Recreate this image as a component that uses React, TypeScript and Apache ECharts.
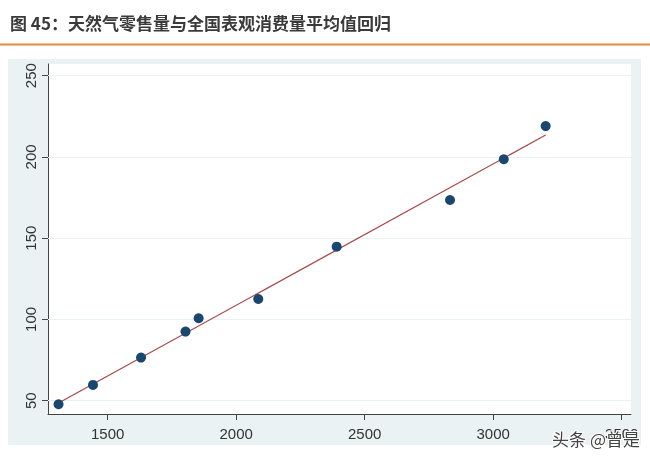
import React, { useEffect, useRef } from "react";
import * as echarts from "echarts";

// 天然气零售量 (x) vs 全国表观消费量平均值 (y)
const retailVolume = [1309, 1443, 1630, 1803, 1854, 2086, 2391, 2832, 3041, 3204];
const consumptionAvg = [47.8, 59.7, 76.5, 92.5, 100.7, 112.6, 144.8, 173.5, 198.6, 219];
const xTicks = [1500, 2000, 2500, 3000, 3500];
const yTicks = [50, 100, 150, 200, 250];
const xRange = [1268, 3536];
const yRange = [41.8, 257.2];
const titleText = "图 45：天然气零售量与全国表观消费量平均值回归";
const watermark = "头条 @曾是";

function linearFit(xs: number[], ys: number[]) {
  const n = xs.length;
  const mx = xs.reduce((a, b) => a + b, 0) / n;
  const my = ys.reduce((a, b) => a + b, 0) / n;
  let sxy = 0;
  let sxx = 0;
  for (let i = 0; i < n; i++) {
    sxy += (xs[i] - mx) * (ys[i] - my);
    sxx += (xs[i] - mx) * (xs[i] - mx);
  }
  const b = sxy / sxx;
  const a = my - b * mx;
  return { a, b };
}

export default function App() {
  const ref = useRef<HTMLDivElement>(null);
  useEffect(() => {
    if (!ref.current) return;
    const chart = echarts.init(ref.current, null, { renderer: "svg" });
    const { a, b } = linearFit(retailVolume, consumptionAvg);
    const xmin = Math.min(...retailVolume);
    const xmax = Math.max(...retailVolume);
    const fitLine = [
      [xmin, a + b * xmin],
      [xmax, a + b * xmax],
    ];
    const points = retailVolume.map((x, i) => [x, consumptionAvg[i]]);
    const font = "'Liberation Sans', Arial, sans-serif";
    chart.setOption({
      animation: false,
      backgroundColor: "transparent",
      grid: {
        left: 48,
        top: 64,
        right: 19,
        bottom: 47,
        show: true,
        backgroundColor: "#ffffff",
        borderWidth: 0,
      },
      xAxis: {
        type: "value",
        min: xRange[0],
        max: xRange[1],
        splitLine: { show: false },
        axisLine: { show: true, onZero: false, lineStyle: { color: "#444", width: 1 } },
        axisTick: { show: true, length: 6, lineStyle: { color: "#444" }, customValues: xTicks },
        axisLabel: {
          customValues: xTicks,
          formatter: (v: number) => String(v),
          color: "#333",
          fontSize: 15,
          fontFamily: font,
          margin: 12,
        },
      },
      yAxis: {
        type: "value",
        min: yRange[0],
        max: yRange[1],
        splitLine: { show: false },
        axisLine: { show: true, onZero: false, lineStyle: { color: "#444", width: 1 } },
        axisTick: { show: true, length: 6, lineStyle: { color: "#444" }, customValues: yTicks },
        axisLabel: {
          customValues: yTicks,
          formatter: (v: number) => String(v),
          rotate: 90,
          color: "#333",
          fontSize: 15,
          fontFamily: font,
          margin: 10,
        },
      },
      series: [
        {
          type: "scatter",
          data: [],
          z: 1,
          silent: true,
          markLine: {
            z: 1,
            silent: true,
            symbol: "none",
            label: { show: false },
            lineStyle: { color: "#EAF2F3", width: 1, type: "solid" },
            data: yTicks.map((v) => ({ yAxis: v })),
          },
        },
        {
          type: "line",
          data: fitLine,
          showSymbol: false,
          z: 3,
          lineStyle: { color: "#A84A48", width: 1.3 },
          itemStyle: { color: "#A84A48" },
        },
        {
          type: "scatter",
          data: points,
          symbolSize: 10,
          z: 4,
          itemStyle: { color: "#1A476F", opacity: 1 },
        },
      ],
      graphic: [
        {
          type: "rect",
          z: -10,
          shape: { x: 8, y: 59, width: 633, height: 386 },
          style: { fill: "#EAF2F3" },
        },
        {
          type: "rect",
          z: 10,
          shape: { x: 0, y: 43.5, width: 650, height: 2 },
          style: { fill: "#E38A3C" },
        },
        {
          type: "text",
          z: 10,
          x: 10,
          y: 22,
          style: {
            text: titleText,
            fill: "#3a3a3a",
            font: "bold 17px 'Noto Sans CJK SC', sans-serif",
            verticalAlign: "middle",
            align: "left",
          },
        },
        {
          type: "text",
          z: 100,
          x: 640,
          y: 438,
          style: {
            text: watermark,
            fill: "#444444",
            font: "17px 'Noto Sans CJK SC', sans-serif",
            align: "right",
            verticalAlign: "middle",
            stroke: "#ffffff",
            lineWidth: 2,
          },
        },
      ],
    });
    return () => chart.dispose();
  }, []);
  return (
    <div
      ref={ref}
      style={{ position: "fixed", left: 0, top: 0, width: 650, height: 461 }}
    />
  );
}
